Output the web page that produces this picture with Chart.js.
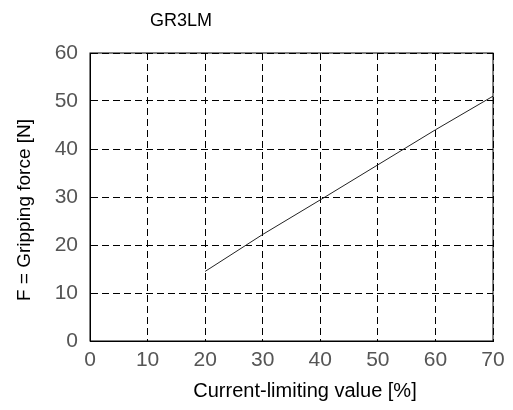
<!DOCTYPE html>
<html>
<head>
<meta charset="utf-8">
<script src="https://cdn.jsdelivr.net/npm/chart.js@4.4.0/dist/chart.umd.min.js"></script>
<style>
  html, body { margin: 0; padding: 0; background: #fff; }
  #wrap { width: 513px; height: 410px; }
</style>
</head>
<body>
<div id="wrap"><canvas id="chart" width="513" height="410"></canvas></div>
<script>
const chartTitle = "GR3LM";
const xTitle = "Current-limiting value [%]";
const yTitle = "F = Gripping force [N]";
const currentLimit = [20, 30, 40, 50, 60, 70];
const grippingForce = [14.5, 22.2, 29.4, 36.7, 44.0, 51.0];

const FONT = "'Liberation Sans', Arial, sans-serif";

// titles sit off-centre in the original, so draw them by hand
const titlePlugin = {
  id: "titleText",
  afterDraw(chart) {
    const ctx = chart.ctx;
    ctx.save();
    ctx.fillStyle = "#000";
    ctx.textAlign = "center";
    ctx.textBaseline = "middle";
    ctx.font = "18px " + FONT;
    ctx.fillText(chartTitle, 181, 21);
    ctx.font = "20px " + FONT;
    ctx.fillText(xTitle, 305, 391);
    ctx.translate(25, 210);
    ctx.rotate(-Math.PI / 2);
    ctx.font = "19px " + FONT;
    ctx.fillText(yTitle, 0, 0);
    ctx.restore();
  }
};

// solid frame round the plot area
const framePlugin = {
  id: "frame",
  afterDatasetsDraw(chart) {
    const { left, top, right, bottom } = chart.chartArea;
    const ctx = chart.ctx;
    ctx.save();
    ctx.strokeStyle = "#000";
    ctx.lineWidth = 1;
    ctx.setLineDash([]);
    ctx.strokeRect(left, top, right - left, bottom - top);
    ctx.restore();
  }
};

new Chart(document.getElementById("chart"), {
  type: "scatter",
  data: {
    datasets: [{
      data: currentLimit.map((x, i) => ({ x, y: grippingForce[i] })),
      showLine: true,
      borderColor: "#222",
      borderWidth: 1,
      pointRadius: 0,
      tension: 0
    }]
  },
  options: {
    responsive: false,
    animation: false,
    layout: { padding: { top: 53, right: 20, left: 0, bottom: 0 } },
    plugins: { legend: { display: false }, tooltip: { enabled: false } },
    scales: {
      x: {
        type: "linear",
        min: 0, max: 70,
        afterFit: (s) => { s.height = 69; },
        ticks: { stepSize: 10, padding: 7, color: "#555", font: { family: FONT, size: 21 } },
        grid: { color: "#000", lineWidth: 1, drawTicks: false },
        border: { color: "#000", width: 1, dash: [7, 4] }
      },
      y: {
        min: 0, max: 60,
        afterFit: (s) => { s.width = 90; },
        ticks: { stepSize: 10, padding: 12, color: "#555", font: { family: FONT, size: 21 } },
        grid: { color: "#000", lineWidth: 1, drawTicks: false },
        border: { color: "#000", width: 1, dash: [7, 4] }
      }
    }
  },
  plugins: [titlePlugin, framePlugin]
});
</script>
</body>
</html>
